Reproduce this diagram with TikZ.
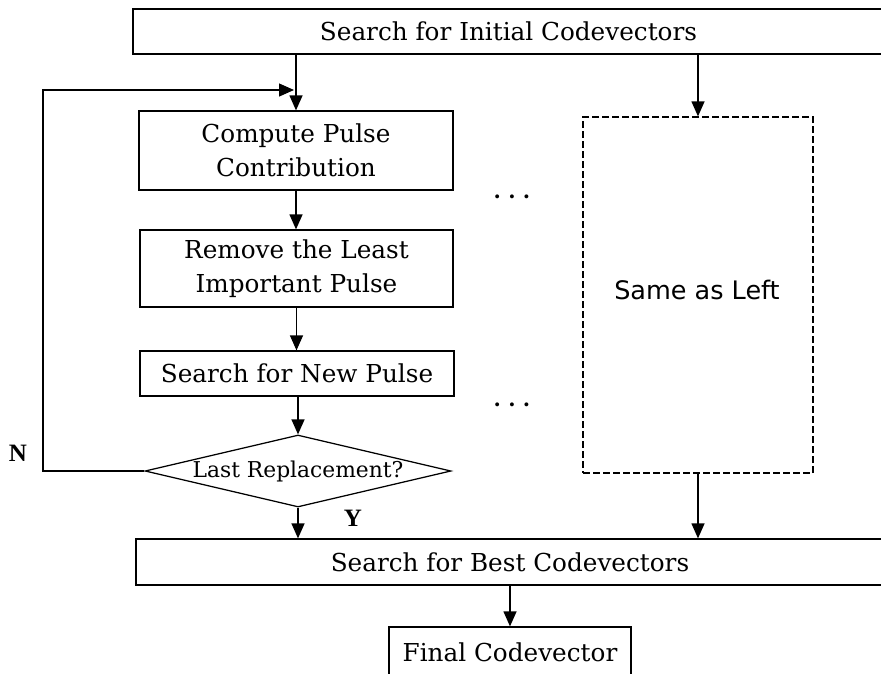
\documentclass[tikz,border=0pt]{standalone}
\usepackage{fontspec}
\setmainfont{DejaVu Serif}
\newfontfamily\samefont{DejaVu Sans}
\newfontfamily\ynfont{Liberation Serif}
\usetikzlibrary{arrows.meta,shapes.geometric}
\begin{document}
\begin{tikzpicture}[x=1pt,y=-1pt,
  line width=1.25pt,
  procbox/.style={draw, inner sep=0pt, align=center,
    font=\fontsize{24.7}{34}\selectfont},
  dashbox/.style={draw, inner sep=0pt, dash pattern=on 7pt off 3pt},
  decision/.style={draw, diamond, inner sep=0pt, aspect=4.25,
    minimum width=306pt, minimum height=72pt,
    font=\fontsize{21.8}{24}\selectfont},
  yn/.style={inner sep=0pt, font=\ynfont\bfseries\fontsize{25}{28}\selectfont},
  dotsnode/.style={inner sep=0pt, font=\bfseries\fontsize{21}{24}\selectfont},
  arr/.style={-{Triangle[length=15pt,width=13pt]}}
]
\useasboundingbox (0,0) rectangle (881,673);
\fill[white] (0,0) rectangle (881,673);
\clip (0,0) rectangle (881,673);

% top and bottom wide boxes
\node[procbox, minimum width=751pt, minimum height=45pt] (init) at (508.5,31.5)
  {Search for Initial Codevectors};
\node[procbox, minimum width=748pt, minimum height=46pt] (best) at (510,562)
  {Search for Best Codevectors};
\node[procbox, minimum width=242pt, minimum height=50pt] (final) at (510,652)
  {Final Codevector};

% left column
\node[procbox, minimum width=314pt, minimum height=79pt] (comp) at (296,150.5)
  {Compute Pulse\\Contribution};
\node[procbox, minimum width=313pt, minimum height=77pt] (rem) at (296.5,268.5)
  {Remove the Least\\Important Pulse};
\node[procbox, minimum width=314pt, minimum height=45pt] (newp) at (297,373.5)
  {Search for New Pulse};
\node[decision] (dec) at (298,471) {Last Replacement?};

% right dashed box
\node[dashbox, minimum width=230pt, minimum height=356pt] (same) at (698,295) {};
\node[font=\samefont\fontsize{25.5}{28}\selectfont, inner sep=0pt] (sametxt) at (697,290) {Same as Left};

% dots
\node[dotsnode] (dots1) at (512,197) {.\ .\ .};
\node[dotsnode] (dots2) at (512,405) {.\ .\ .};

% labels
\node[yn] (nlab) at (18,453) {N};
\node[yn] (ylab) at (353,518) {Y};

% feedback corner coordinates
\coordinate (fbl) at (43,471);
\coordinate (fbt) at (43,90);
\coordinate (fbe) at (294,90);

% connectors
\draw[arr] (init.south -| comp.north) -- (comp.north);
\draw[arr] (same.north |- init.south) -- (same.north);
\draw[arr] (comp.south) -- (comp.south |- rem.north);
\draw[arr] (rem.south) -- (rem.south |- newp.north);
\draw[arr] (newp.south -| dec.north) -- (dec.north);
\draw[arr] (dec.south) -- (dec.south |- best.north);
\draw[arr] (same.south) -- (same.south |- best.north);
\draw[arr] (final.north |- best.south) -- (final.north);
\draw[arr] (dec.west) -- (fbl) -- (fbt) -- (fbe);
\end{tikzpicture}
\end{document}
